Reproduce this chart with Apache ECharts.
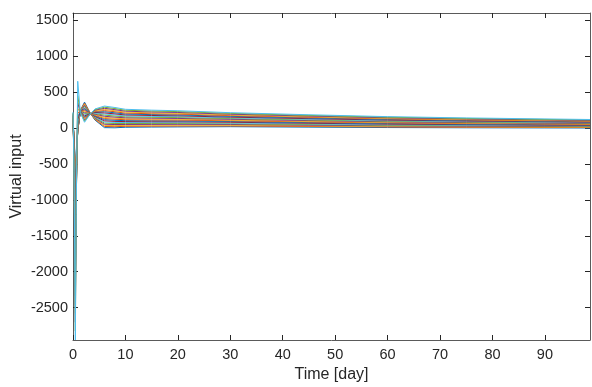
<!DOCTYPE html>
<html>
<head>
<meta charset="utf-8">
<script src="https://cdn.jsdelivr.net/npm/echarts@6/dist/echarts.min.js"></script>
<style>
  html, body { margin: 0; padding: 0; background: #fff; }
  #chart { width: 592px; height: 387px; }
</style>
</head>
<body>
<div id="chart"></div>
<script>
// time samples [day]
const times = [0, 0.2, 0.45, 0.6, 0.9, 1.4, 2.2, 3.3, 4.2, 6, 8, 10, 15, 20, 30, 45, 60, 75, 90, 98.6];

// one row per virtual input
const inputs = [
  [20, -50, -600, -350, -50, 245, 360, 205, 110, 5, 3, 10, 13, 15, 18, 12, 6, 3, 1, 0],
  [31, -79, -724, -395, -50, 243, 345, 204, 118, 21, 18, 23, 25, 27, 28, 21, 14, 10, 8, 6],
  [41, -108, -847, -439, -48, 242, 331, 204, 126, 37, 33, 36, 38, 39, 39, 30, 22, 17, 14, 12],
  [52, -137, -971, -484, -46, 240, 316, 203, 134, 52, 48, 49, 50, 51, 49, 39, 30, 25, 21, 19],
  [62, -166, -1095, -529, -42, 239, 301, 203, 143, 68, 62, 63, 62, 62, 59, 48, 38, 32, 27, 25],
  [73, -195, -1218, -574, -36, 237, 287, 202, 151, 84, 77, 76, 75, 74, 69, 57, 46, 39, 34, 31],
  [83, -224, -1342, -618, -28, 236, 272, 202, 159, 100, 92, 89, 87, 86, 80, 66, 54, 46, 40, 37],
  [94, -253, -1466, -663, -18, 234, 257, 201, 167, 116, 107, 102, 100, 98, 90, 75, 62, 53, 47, 43],
  [104, -282, -1589, -708, -5, 233, 243, 201, 175, 131, 122, 115, 112, 110, 100, 84, 70, 61, 54, 50],
  [115, -311, -1713, -753, 10, 231, 228, 200, 183, 147, 137, 128, 124, 122, 110, 93, 78, 68, 60, 56],
  [125, -339, -1837, -797, 30, 229, 213, 200, 192, 163, 151, 142, 137, 133, 121, 103, 86, 75, 67, 62],
  [136, -368, -1961, -842, 55, 228, 198, 199, 200, 179, 166, 155, 149, 145, 131, 112, 94, 82, 73, 68],
  [146, -397, -2084, -887, 85, 226, 184, 199, 208, 195, 181, 168, 161, 157, 141, 121, 102, 90, 80, 74],
  [157, -426, -2208, -932, 120, 225, 169, 198, 216, 210, 196, 181, 174, 169, 151, 130, 110, 97, 86, 81],
  [167, -455, -2332, -976, 160, 223, 154, 198, 224, 226, 211, 194, 186, 181, 162, 139, 118, 104, 93, 87],
  [178, -484, -2455, -1021, 210, 222, 140, 197, 232, 242, 226, 207, 198, 193, 172, 148, 126, 111, 100, 93],
  [188, -513, -2579, -1066, 270, 220, 125, 197, 241, 258, 240, 221, 211, 204, 182, 157, 134, 118, 106, 99],
  [199, -542, -2703, -1111, 350, 219, 110, 196, 249, 274, 255, 234, 223, 216, 192, 166, 142, 126, 113, 105],
  [209, -571, -2826, -1155, 450, 217, 95, 196, 257, 289, 270, 247, 236, 228, 203, 175, 150, 133, 119, 112],
  [220, -600, -2950, -1200, 650, 215, 80, 195, 265, 305, 285, 260, 248, 240, 213, 184, 158, 140, 126, 118]
];

const xTicks = [0, 10, 20, 30, 40, 50, 60, 70, 80, 90];
const yTicks = [-2500, -2000, -1500, -1000, -500, 0, 500, 1000, 1500];
const palette = ["#0072BD", "#D95319", "#EDB120", "#7E2F8E", "#77AC30", "#4DBEEE", "#A2142F"];

const axisColor = "#5a5a5a";
const textColor = "#262626";
const font = "Liberation Sans, Arial, sans-serif";

function xAxisDef(pos, labels) {
  return {
    type: "value", position: pos, min: 0, max: 98.6,
    name: labels ? "Time [day]" : "", nameLocation: "middle", nameGap: 27, nameMoveOverlap: false,
    nameTextStyle: { color: textColor, fontSize: 16, fontFamily: font },
    axisLine: { show: true, onZero: false, lineStyle: { color: axisColor, width: 1 } },
    axisTick: { show: true, inside: true, length: 5, customValues: xTicks, lineStyle: { color: textColor } },
    axisLabel: { show: labels, customValues: xTicks, color: textColor, fontSize: 14.5, fontFamily: font, margin: 7,
      formatter: (v) => String(v) },
    splitLine: { show: false }
  };
}

function yAxisDef(pos, labels) {
  return {
    type: "value", position: pos, min: -2950, max: 1600,
    name: labels ? "Virtual input" : "", nameLocation: "middle", nameGap: 48, nameMoveOverlap: false,
    nameTextStyle: { color: textColor, fontSize: 16, fontFamily: font },
    axisLine: { show: true, onZero: false, lineStyle: { color: axisColor, width: 1 } },
    axisTick: { show: true, inside: true, length: 5, customValues: yTicks, lineStyle: { color: textColor } },
    axisLabel: { show: labels, customValues: yTicks, color: textColor, fontSize: 14.5, fontFamily: font, margin: 5,
      formatter: (v) => String(v) },
    splitLine: { show: false }
  };
}

const chart = echarts.init(document.getElementById("chart"), null, { renderer: "canvas" });
chart.setOption({
  animation: false,
  backgroundColor: "#fff",
  grid: { left: 73, right: 2, top: 13, bottom: 47, outerBoundsMode: "none", containLabel: false },
  xAxis: [xAxisDef("bottom", true), xAxisDef("top", false)],
  yAxis: [yAxisDef("left", true), yAxisDef("right", false)],
  series: inputs.map((row, i) => ({
    type: "line",
    xAxisIndex: 0,
    yAxisIndex: 0,
    showSymbol: false,
    data: row.map((v, k) => [times[k], v]),
    lineStyle: { width: 1, color: palette[i % palette.length] }
  }))
});
</script>
</body>
</html>
